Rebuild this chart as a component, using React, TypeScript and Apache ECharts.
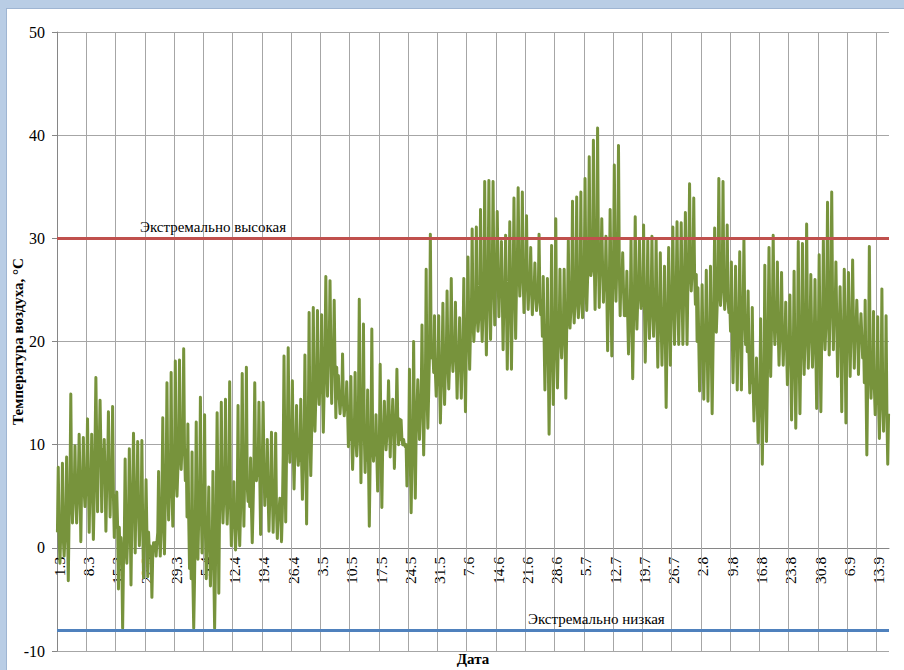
import React, { useEffect, useRef } from "react";
import * as echarts from "echarts";

// Months covered by the record: [month number, days shown]
const monthSpans: [number, number][] = [
  [3, 31], [4, 30], [5, 31], [6, 30], [7, 31], [8, 31], [9, 15],
];

// Daily maximum air temperature, °C (1.3 … 15.9)
const dayMax: number[] = [
  7.8, 8.2, 8.8, 14.9, 9.9, 11.0, 10.7, 12.5, 11.0, 16.5,
  14.3, 10.5, 13.2, 13.7, 5.4, 1.0, 8.6, 9.6, 11.1, 10.3,
  10.4, 6.6, 0.2, 0.4, 7.4, 12.6, 16.0, 17.0, 18.1, 18.2,
  19.3, 12.0, 9.3, 12.2, 14.6, 12.9, 5.9, 7.4, 13.1, 14.1,
  14.4, 16.1, 6.4, 13.8, 16.9, 17.5, 8.7, 16.0, 14.1, 14.1,
  10.5, 11.2, 11.1, 4.8, 18.6, 19.4, 16.2, 13.8, 14.4, 18.7,
  22.8, 23.3, 23.0, 22.6, 26.3, 25.9, 24.0, 16.7, 18.8, 16.1,
  16.6, 17.0, 24.1, 21.7, 15.3, 21.2, 12.9, 17.8, 14.2, 16.2,
  14.4, 17.3, 12.4, 9.8, 17.3, 20.0, 16.3, 21.6, 27.0, 30.4,
  22.5, 22.5, 23.7, 24.9, 26.1, 23.8, 22.3, 26.1, 28.2, 30.9,
  31.1, 32.8, 35.5, 35.6, 35.5, 32.6, 29.7, 30.3, 31.6, 33.9,
  34.9, 34.5, 32.2, 29.1, 27.6, 30.4, 26.3, 26.1, 29.3, 31.9,
  27.0, 27.0, 29.8, 33.6, 34.0, 34.5, 35.8, 37.9, 39.5, 40.7,
  31.9, 30.2, 32.8, 37.1, 39.0, 28.6, 26.8, 29.9, 32.1, 29.9,
  31.3, 29.8, 30.2, 29.9, 28.6, 27.3, 29.1, 31.1, 31.6, 31.5,
  32.5, 35.3, 33.9, 25.2, 25.5, 26.9, 27.3, 31.0, 35.8, 35.5,
  31.3, 27.7, 27.3, 28.7, 29.9, 24.9, 23.3, 18.4, 22.2, 27.4,
  29.1, 30.3, 27.7, 26.7, 23.8, 24.5, 26.8, 29.7, 29.5, 31.4,
  26.5, 26.0, 28.4, 29.8, 33.5, 34.5, 27.7, 25.3, 27.0, 26.7,
  27.9, 24.0, 22.7, 24.0, 29.2, 22.9, 22.4, 25.1, 22.5,
];

// Daily minimum air temperature, °C
const dayMin: number[] = [
  -1.5, -0.8, -3.2, 2.4, 2.4, 0.6, 4.0, 1.5, 0.8, 3.5,
  3.5, 1.6, 3.0, 1.0, -4.0, -7.8, -1.5, -3.6, -0.5, 0.2,
  -2.9, -2.8, -4.8, -0.8, -0.8, -0.6, 2.7, 2.1, 5.0, 7.6,
  6.5, -2.0, -7.8, -1.1, -0.5, -3.0, -3.7, -7.8, -4.4, 2.4,
  2.3, 0.2, -0.2, 0.2, 2.1, 4.5, 0.5, 6.5, 1.3, 4.1,
  1.6, 1.5, 0.9, 0.6, 2.5, 8.3, 5.7, 8.0, 4.7, 2.3,
  7.0, 11.3, 13.9, 11.2, 14.7, 14.0, 12.6, 13.0, 12.8, 9.8,
  7.6, 8.9, 6.3, 7.3, 2.1, 8.4, 5.5, 3.9, 9.5, 8.8,
  7.7, 10.0, 10.0, 6.0, 3.4, 4.8, 10.5, 9.0, 11.6, 18.4,
  14.7, 12.1, 13.9, 15.4, 17.1, 14.5, 14.5, 13.2, 17.3, 20.0,
  21.0, 20.0, 18.7, 20.2, 21.6, 22.4, 19.2, 17.3, 17.3, 20.3,
  24.4, 22.8, 23.1, 22.6, 23.0, 22.6, 15.3, 11.0, 13.9, 15.5,
  18.4, 14.5, 21.3, 21.8, 22.3, 22.3, 23.0, 26.4, 23.1, 23.3,
  23.8, 19.1, 18.6, 23.9, 22.5, 22.5, 18.8, 16.4, 21.2, 23.2,
  18.0, 20.3, 20.5, 17.5, 17.7, 13.6, 17.7, 19.7, 19.7, 19.7,
  19.7, 24.9, 23.6, 15.2, 14.4, 14.2, 13.0, 20.9, 23.5, 23.1,
  22.8, 16.0, 15.3, 15.3, 19.7, 15.0, 12.3, 10.2, 8.1, 10.3,
  16.6, 19.7, 17.7, 17.7, 15.8, 12.4, 11.6, 13.0, 16.8, 17.4,
  17.5, 13.5, 13.2, 19.2, 18.7, 19.2, 16.6, 13.2, 12.1, 16.6,
  17.4, 16.8, 18.4, 9.0, 14.5, 12.9, 10.6, 11.3, 8.1,
];

// Daily mean air temperature, °C
const dayMean: number[] = [
  1.5, 1.0, 3.0, 5.5, 4.8, 6.5, 5.5, 6.8, 5.0, 10.0,
  9.5, 6.5, 7.5, 5.0, 2.0, -1.5, 1.0, 3.0, 5.5, 3.5,
  2.0, 1.5, -0.5, 0.5, 1.5, 4.5, 6.5, 5.5, 7.5, 10.0,
  9.5, 3.0, -3.0, 3.0, 4.0, 1.5, 0.5, -2.0, 4.5, 5.0,
  5.0, 4.5, 2.0, 3.5, 7.5, 6.0, 4.0, 8.0, 7.0, 8.0,
  5.0, 5.5, 3.5, 3.5, 9.0, 11.0, 9.5, 9.5, 8.5, 10.5,
  11.0, 14.5, 16.0, 15.5, 19.0, 19.0, 17.5, 14.5, 14.0, 13.5,
  10.5, 10.5, 13.5, 11.0, 8.5, 10.5, 9.0, 10.0, 11.0, 12.5,
  11.5, 12.5, 10.5, 10.0, 8.5, 11.0, 13.5, 14.0, 15.0, 19.0,
  17.0, 16.0, 17.5, 18.0, 19.0, 18.5, 18.0, 19.5, 21.0, 22.0,
  22.5, 23.0, 24.0, 25.0, 26.0, 26.5, 24.5, 23.5, 24.0, 25.5,
  27.0, 26.0, 25.5, 25.0, 24.5, 24.0, 20.5, 18.5, 19.5, 20.0,
  20.5, 21.0, 23.0, 24.0, 24.0, 24.5, 26.0, 27.0, 28.0, 28.5,
  27.0, 25.0, 25.0, 27.5, 27.0, 25.0, 22.5, 22.0, 24.0, 25.0,
  23.5, 23.0, 23.5, 22.5, 22.0, 20.5, 23.0, 24.0, 24.5, 25.0,
  25.5, 27.0, 26.5, 20.0, 19.5, 20.0, 19.0, 23.5, 26.0, 25.0,
  24.0, 21.0, 20.5, 22.0, 22.5, 19.0, 16.0, 14.0, 14.5, 16.0,
  21.5, 22.5, 21.0, 21.0, 19.5, 18.5, 18.0, 19.0, 20.0, 21.5,
  20.5, 19.0, 20.0, 21.5, 23.5, 24.0, 22.0, 20.5, 20.0, 21.0,
  21.5, 21.0, 20.5, 16.0, 17.5, 15.5, 14.0, 15.0, 13.0,
];

// Threshold lines
const extremeHigh = 30;
const extremeLow = -8;
const highLabel = "Экстремально высокая";
const lowLabel = "Экстремально низкая";

// Y axis ticks
const yTicks = { min: -10, max: 50, step: 10 };
// date labels / vertical grid every 7 days
const weekStep = 7;

const serif = '"Liberation Serif", "Times New Roman", serif';

const W = 904;
const H = 670;
const GRID = { left: 57, right: 15, top: 32, bottom: 19 };

function buildDates(): string[] {
  const out: string[] = [];
  monthSpans.forEach(([m, n]) => {
    for (let d = 1; d <= n; d++) out.push(`${d}.${m}`);
  });
  return out;
}

export default function App() {
  const ref = useRef<HTMLDivElement>(null);

  useEffect(() => {
    document.body.style.margin = "0";
    document.body.style.overflow = "hidden";
    if (!ref.current) return;
    const chart = echarts.init(ref.current, undefined, { renderer: "svg" });
    const dates = buildDates();
    const n = dates.length;

    // each day: mean -> max -> mean -> min -> mean within the day's band
    const pts: [number, number][] = [];
    for (let i = 0; i < n; i++) {
      pts.push([i + 0.1, dayMean[i]]);
      pts.push([i + 0.3, dayMax[i]]);
      pts.push([i + 0.5, dayMean[i]]);
      pts.push([i + 0.7, dayMin[i]]);
      pts.push([i + 0.9, dayMean[i]]);
    }

    // weekly vertical grid lines (start of each labelled week)
    const weekLines: { xAxis: number }[] = [];
    for (let d = weekStep; d < n; d += weekStep) weekLines.push({ xAxis: d });

    // x axis sits on the y = 0 line (category axis crossing at zero)
    const plotH = H - GRID.top - GRID.bottom;
    const zeroOffset = -plotH * (0 - yTicks.min) / (yTicks.max - yTicks.min);

    const grey = "#a6a6a6";

    chart.setOption({
      animation: false,
      backgroundColor: "transparent",
      grid: { ...GRID, show: false, borderWidth: 0, containLabel: false, outerBoundsMode: "none" },
      xAxis: [
        {
          type: "category",
          data: dates,
          boundaryGap: true,
          offset: zeroOffset,
          axisLine: { onZero: true, onZeroAxisIndex: 0, lineStyle: { color: "#868686", width: 1 } },
          axisTick: { show: false, interval: weekStep - 1 },
          axisLabel: {
            interval: weekStep - 1,
            rotate: 90,
            margin: 9,
            color: "#000",
            fontFamily: serif,
            fontSize: 15.5,
          },
          splitLine: { show: false },
          splitArea: { show: false },
          name: "Дата",
          nameLocation: "middle",
          nameGap: 104,
          nameMoveOverlap: false,
          nameTextStyle: { fontFamily: serif, fontSize: 15, fontWeight: "bold", color: "#000" },
        },
        {
          type: "value",
          min: 0,
          max: n,
          show: false,
          axisLine: { show: false, onZero: false },
          axisTick: { show: false },
          axisLabel: { show: false },
          splitLine: { show: false },
        },
      ],
      yAxis: {
        type: "value",
        min: yTicks.min,
        max: yTicks.max,
        interval: yTicks.step,
        axisLine: { show: true, onZero: false, lineStyle: { color: "#868686" } },
        axisTick: { show: true, length: 5, lineStyle: { color: "#868686" } },
        axisLabel: { color: "#000", fontFamily: serif, fontSize: 16, margin: 12 },
        splitLine: { show: true, lineStyle: { color: grey, width: 1 } },
        name: "Температура воздуха, °С",
        nameLocation: "middle",
        nameGap: 32,
        nameMoveOverlap: false,
        nameTextStyle: { fontFamily: serif, fontSize: 15, fontWeight: "bold", color: "#000" },
      },
      series: [
        {
          // vertical weekly grid lines
          type: "line",
          xAxisIndex: 1,
          yAxisIndex: 0,
          data: [],
          silent: true,
          z: 1,
          markLine: {
            silent: true,
            symbol: "none",
            animation: false,
            z: 1,
            label: { show: false },
            emphasis: { disabled: true },
            lineStyle: { color: grey, width: 1, type: "solid" },
            data: weekLines,
          },
        },
        {
          type: "line",
          xAxisIndex: 1,
          yAxisIndex: 0,
          data: pts,
          showSymbol: false,
          symbol: "none",
          lineStyle: { color: "#77933c", width: 3, join: "round" },
          z: 2,
        },
        {
          type: "line",
          xAxisIndex: 1,
          yAxisIndex: 0,
          data: [],
          z: 5,
          markLine: {
            silent: true,
            symbol: "none",
            animation: false,
            z: 5,
            label: {
              color: "#000",
              fontFamily: serif,
              fontSize: 15,
            },
            data: [
              {
                yAxis: extremeHigh,
                lineStyle: { color: "#c0504d", width: 3, type: "solid" },
                label: { formatter: highLabel, position: "insideStartTop", distance: [83, 4] },
              },
              {
                yAxis: extremeLow,
                lineStyle: { color: "#4f81bd", width: 3, type: "solid" },
                label: { formatter: lowLabel, position: "insideStartTop", distance: [471, 4] },
              },
            ],
          },
        },
      ],
    });
    return () => chart.dispose();
  }, []);

  return (
    <div style={{ position: "relative", width: W, height: H, background: "#b9cde5", overflow: "hidden" }}>
      <div
        style={{
          position: "absolute",
          left: 6,
          top: 8,
          width: W - 6,
          height: H - 8,
          background: "#fff",
          borderLeft: "1px solid #9fb5d2",
          borderTop: "1px solid #9fb5d2",
          boxSizing: "border-box",
        }}
      />
      <div ref={ref} style={{ position: "absolute", left: 0, top: 0, width: W, height: H }} />
    </div>
  );
}
